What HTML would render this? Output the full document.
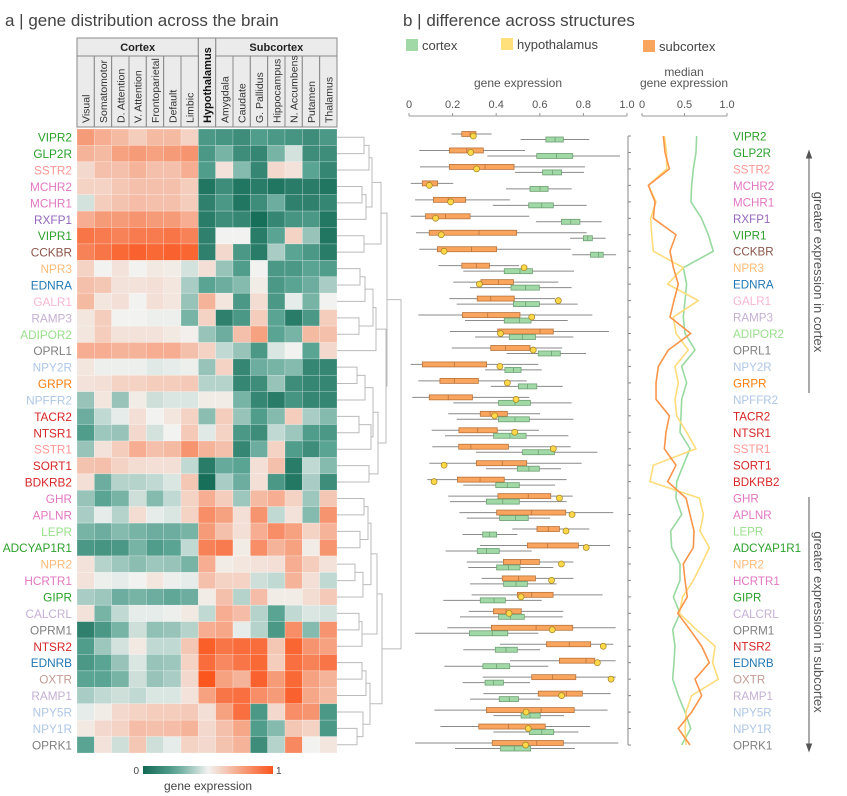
<!DOCTYPE html>
<html><head><meta charset="utf-8">
<style>
html,body{margin:0;padding:0;background:#fff;}
svg{display:block;font-family:"Liberation Sans","DejaVu Sans",sans-serif;}
</style></head>
<body>
<svg id="fig" width="847" height="796" viewBox="0 0 847 796" xmlns="http://www.w3.org/2000/svg">
<text x="5" y="26" font-size="17" fill="#444">a | gene distribution across the brain</text>
<text x="403" y="26" font-size="17" fill="#444">b | difference across structures</text>
<g>
<rect x="406" y="39" width="12" height="12" fill="#a1d9a6"/>
<text x="422" y="50" font-size="13" fill="#444">cortex</text>
<rect x="501" y="38" width="12" height="12" fill="#ffe07a"/>
<text x="517" y="49" font-size="13" fill="#444">hypothalamus</text>
<rect x="643" y="40" width="12" height="12" fill="#f9a55e"/>
<text x="659" y="51" font-size="13" fill="#444">subcortex</text>
</g>
<text x="518" y="87" font-size="12" fill="#555" text-anchor="middle">gene expression</text>
<text x="684" y="76" font-size="12" fill="#555" text-anchor="middle">median</text>
<text x="684" y="87" font-size="12" fill="#555" text-anchor="middle">gene expression</text>
<g id="root"></g>
</svg>
<script>
// ---- DATA ----
const shown=["VIPR2","GLP2R","SSTR2","MCHR2","MCHR1","RXFP1","VIPR1","CCKBR","NPR3","EDNRA","GALR1","RAMP3","ADIPOR2","OPRL1","NPY2R","GRPR","NPFFR2","TACR2","NTSR1","SSTR1","SORT1","BDKRB2","GHR","APLNR","LEPR","ADCYAP1R1","NPR2","HCRTR1","GIPR","CALCRL","OPRM1","NTSR2","EDNRB","OXTR","RAMP1","NPY5R","NPY1R","OPRK1"];
const geneColors={VIPR2:"#2ca02c",GLP2R:"#2ca02c",SSTR2:"#ff9896",MCHR2:"#e377c2",MCHR1:"#e377c2",RXFP1:"#9467bd",VIPR1:"#2ca02c",CCKBR:"#8c564b",NPR3:"#ffbb78",EDNRA:"#1f77b4",GALR1:"#f7b6d2",RAMP3:"#c5b0d5",ADIPOR2:"#98df8a",OPRL1:"#7f7f7f",NPY2R:"#aec7e8",GRPR:"#ff7f0e",NPFFR2:"#aec7e8",TACR2:"#d62728",NTSR1:"#d62728",SSTR1:"#ff9896",SORT1:"#d62728",BDKRB2:"#d62728",GHR:"#e377c2",APLNR:"#e377c2",LEPR:"#98df8a",ADCYAP1R1:"#2ca02c",NPR2:"#ffbb78",HCRTR1:"#e377c2",GIPR:"#2ca02c",CALCRL:"#c5b0d5",OPRM1:"#7f7f7f",NTSR2:"#d62728",EDNRB:"#1f77b4",OXTR:"#c49c94",RAMP1:"#c5b0d5",NPY5R:"#aec7e8",NPY1R:"#aec7e8",OPRK1:"#7f7f7f"};
const cortexCols=["Visual","Somatomotor","D. Attention","V. Attention","Frontoparietal","Default","Limbic"];
const subcortexCols=["Amygdala","Caudate","G. Pallidus","Hippocampus","N. Accumbens","Putamen","Thalamus"];
const heatValues=[
[.78,.72,.68,.62,.68,.68,.6,.2,.18,.15,.22,.2,.18,.15,.2],
[.7,.68,.76,.78,.76,.78,.8,.2,.3,.15,.12,.3,.45,.15,.15],
[.58,.66,.66,.7,.66,.66,.72,.22,.55,.32,.12,.58,.55,.25,.12],
[.6,.6,.64,.66,.66,.66,.62,.05,.15,.05,.08,.05,.08,.08,.05],
[.45,.62,.65,.67,.66,.66,.62,.1,.2,.05,.15,.28,.1,.1,.12],
[.72,.78,.78,.8,.78,.78,.72,.08,.15,.12,.02,.12,.18,.2,.06],
[.9,.88,.86,.88,.88,.9,.86,.1,.5,.5,.08,.25,.6,.35,.05],
[.86,.9,.94,.96,.94,.96,.95,.1,.58,.2,.08,.38,.25,.2,.08],
[.6,.5,.55,.5,.53,.52,.45,.56,.35,.22,.5,.2,.2,.25,.22],
[.66,.64,.55,.55,.56,.54,.38,.25,.28,.32,.52,.2,.25,.28,.38],
[.68,.54,.56,.5,.56,.54,.35,.7,.54,.2,.57,.2,.48,.3,.5],
[.54,.62,.5,.5,.49,.49,.3,.6,.1,.2,.62,.25,.08,.2,.62],
[.54,.62,.55,.55,.55,.53,.51,.35,.28,.66,.76,.25,.3,.68,.66],
[.72,.72,.7,.7,.72,.72,.66,.6,.42,.35,.2,.46,.5,.25,.58],
[.54,.49,.49,.49,.47,.48,.49,.35,.6,.12,.28,.3,.32,.12,.12],
[.55,.56,.6,.6,.62,.62,.63,.4,.4,.12,.15,.35,.15,.12,.12],
[.35,.54,.35,.52,.44,.46,.46,.52,.52,.3,.12,.08,.18,.12,.12],
[.28,.42,.48,.56,.5,.54,.6,.33,.62,.35,.22,.32,.62,.38,.32],
[.22,.36,.35,.58,.45,.5,.63,.47,.6,.2,.15,.42,.36,.22,.2],
[.35,.55,.62,.72,.66,.68,.8,.7,.66,.12,.28,.6,.22,.15,.25],
[.65,.66,.6,.57,.56,.56,.42,.08,.27,.25,.56,.66,.08,.42,.32],
[.56,.28,.4,.4,.42,.46,.64,.02,.38,.28,.56,.2,.06,.38,.15],
[.35,.25,.3,.44,.32,.42,.6,.72,.62,.36,.68,.72,.6,.36,.64],
[.38,.48,.4,.57,.48,.46,.6,.82,.76,.56,.8,.42,.55,.32,.8],
[.3,.28,.32,.3,.28,.28,.3,.78,.66,.56,.72,.82,.76,.6,.7],
[.2,.18,.2,.3,.22,.25,.42,.86,.88,.52,.82,.7,.76,.52,.8],
[.55,.4,.36,.33,.36,.35,.3,.72,.52,.54,.55,.56,.72,.62,.55],
[.55,.49,.48,.5,.54,.49,.48,.66,.6,.6,.44,.42,.7,.56,.42],
[.38,.36,.28,.3,.28,.26,.28,.52,.66,.4,.67,.52,.52,.57,.63],
[.55,.3,.42,.48,.48,.49,.53,.42,.72,.67,.4,.25,.42,.46,.45],
[.1,.2,.3,.44,.34,.35,.4,.72,.74,.48,.4,.2,.82,.32,.8],
[.22,.36,.45,.53,.42,.42,.64,.97,.9,.93,.93,.64,.95,.8,.76],
[.2,.25,.35,.46,.35,.36,.6,.93,.84,.9,.94,.62,.92,.86,.9],
[.25,.25,.3,.44,.35,.38,.58,1.0,.76,.7,.96,.78,.94,.76,.7],
[.38,.42,.44,.42,.46,.46,.55,.76,.9,.92,.82,.78,.96,.74,.68],
[.48,.52,.58,.6,.62,.62,.63,.56,.76,.92,.2,.58,.82,.8,.2],
[.53,.58,.6,.67,.66,.67,.7,.58,.66,.74,.22,.32,.64,.6,.2],
[.25,.55,.44,.64,.44,.48,.6,.58,.65,.7,.15,.4,.84,.5,.54]];
// box stats: [whiskerLow, q1, median, q3, whiskerHigh]
const subcortexBox=[
[.195,.242,.28,.307,.379],[.047,.185,.265,.341,.532],[.05,.185,.349,.482,.807],[.008,.061,.093,.131,.203],
[.028,.112,.18,.26,.463],[.008,.076,.168,.28,.552],[.032,.093,.321,.494,.815],[.047,.13,.287,.402,.742],
[.135,.242,.31,.369,.505],[.203,.33,.41,.479,.685],[.185,.313,.375,.483,.67],[.043,.245,.361,.509,.841],
[.188,.407,.601,.662,.917],[.196,.375,.443,.555,.703],[.008,.061,.208,.356,.593],[.043,.142,.208,.318,.54],
[.015,.093,.18,.291,.552],[.18,.327,.372,.451,.601],[.104,.229,.315,.405,.596],[.107,.228,.284,.456,.742],
[.093,.309,.428,.54,.792],[.084,.222,.326,.437,.723],[.18,.408,.547,.65,.751],[.231,.402,.563,.719,.937],
[.474,.587,.639,.69,.827],[.326,.543,.636,.777,.922],[.265,.433,.512,.598,.754],[.333,.428,.503,.58,.754],
[.287,.497,.563,.661,.888],[.274,.387,.445,.515,.708],[.176,.378,.583,.751,.948],[.417,.631,.735,.833,.937],
[.463,.69,.812,.852,.948],[.338,.563,.659,.765,.948],[.341,.593,.723,.795,.925],[.116,.355,.606,.758,.911],
[.144,.32,.457,.625,.83],[.028,.382,.586,.708,.96]];
const cortexBox=[
[.512,.628,.67,.708,.827],[.359,.586,.677,.751,.968],[.486,.613,.659,.7,.803],[.445,.555,.601,.638,.746],
[.384,.549,.609,.662,.815],[.583,.699,.742,.784,.884],[.739,.8,.82,.841,.902],[.749,.833,.869,.891,.95],
[.249,.437,.509,.566,.757],[.28,.468,.535,.598,.746],[.219,.479,.535,.598,.774],[.257,.437,.506,.56,.728],
[.303,.46,.521,.58,.754],[.448,.593,.654,.694,.812],[.349,.44,.479,.514,.609],[.375,.502,.544,.586,.705],
[.203,.411,.486,.557,.746],[.219,.411,.486,.552,.754],[.165,.388,.463,.537,.731],[.307,.521,.593,.667,.864],
[.353,.497,.55,.598,.697],[.249,.398,.451,.506,.67],[.188,.355,.43,.506,.723],[.265,.416,.489,.547,.647],
[.246,.338,.37,.402,.497],[.168,.313,.356,.414,.563],[.272,.402,.456,.509,.662],[.28,.434,.491,.543,.677],
[.157,.327,.39,.442,.609],[.234,.411,.465,.529,.705],[.028,.277,.382,.453,.593],[.249,.396,.445,.497,.601],
[.162,.339,.402,.462,.639],[.246,.349,.387,.433,.555],[.28,.414,.46,.502,.601],[.387,.514,.555,.602,.711],
[.387,.552,.609,.664,.777],[.211,.42,.483,.558,.761]];
const hypothalamusValue=[.295,.283,.31,.093,.191,.122,.148,.161,.528,.323,.685,.563,.42,.57,.417,.451,.491,.393,.485,.662,.161,.115,.69,.748,.72,.813,.699,.654,.514,.459,.657,.891,.864,.927,.7,.537,.547,.535];
const medianCortex=[.643,.635,.604,.584,.576,.70,.78,.839,.486,.525,.506,.486,.506,.624,.467,.525,.467,.459,.447,.565,.486,.408,.40,.467,.337,.349,.447,.447,.369,.447,.361,.388,.376,.361,.427,.506,.573,.467];
const medianSubcortex=[.251,.271,.322,.075,.153,.133,.40,.329,.369,.427,.376,.329,.573,.31,.192,.165,.165,.322,.282,.263,.40,.302,.518,.565,.612,.604,.486,.506,.533,.42,.565,.702,.792,.624,.702,.584,.427,.565];
const medianHypothalamus=[.263,.29,.29,.075,.165,.102,.114,.133,.486,.302,.663,.369,.40,.545,.388,.427,.388,.408,.525,.635,.133,.094,.675,.722,.682,.792,.702,.604,.478,.439,.643,.859,.831,.898,.584,.518,.506,.518];
const boxTicks=[0,0.2,0.4,0.6,0.8,1.0];
const boxTickLabels=["0","0.2","0.4","0.6","0.8","1.0"];
const medTicks=[0,0.5,1.0];
const medTickLabels=["0","0.5","1.0"];
</script>
<script>
const NS="http://www.w3.org/2000/svg";
const root=document.getElementById('root');
function el(tag,attrs,parent,txt){const e=document.createElementNS(NS,tag);for(const k in attrs)e.setAttribute(k,attrs[k]);if(txt!==undefined)e.textContent=txt;(parent||root).appendChild(e);return e;}
const N=shown.length;
const hx0=77,hx1=337,hy0=129,hy1=753;
const cw=(hx1-hx0)/15, rh=(hy1-hy0)/N;
const stops=[[0,[18,106,84]],[0.25,[90,164,148]],[0.5,[242,242,240]],[0.75,[246,164,132]],[1,[250,86,30]]];
function cmap(v){v=Math.max(0,Math.min(1,v));for(let i=1;i<stops.length;i++){if(v<=stops[i][0]){const a=stops[i-1],b=stops[i];const t=(v-a[0])/(b[0]-a[0]);return 'rgb('+a[1].map((c,j)=>Math.round(c+(b[1][j]-c)*t)).join(',')+')';}}return 'rgb(250,86,30)';}
const gHeat=el('g',{});


for(let r=0;r<N;r++){for(let c=0;c<15;c++){
 const cell=el('rect',{x:hx0+c*cw,y:hy0+r*rh,width:cw,height:rh,fill:cmap(heatValues[r][c]),stroke:'#fff','stroke-opacity':0.35,'stroke-width':0.6},gHeat);
 
 
}
 const lab=el('text',{x:72,y:hy0+(r+0.5)*rh+4.5,'font-size':11.8,'text-anchor':'end',fill:geneColors[shown[r]]},root,shown[r]);
 
 
}
const gHead=el('g',{});


const cortexHeader=el('rect',{x:hx0,y:38,width:7*cw,height:18,fill:'#ebebeb',stroke:'#888','stroke-width':1},gHead);


const t1=el('text',{x:hx0+3.5*cw,y:51,'font-size':11,'font-weight':'bold','text-anchor':'middle',fill:'#222'},gHead,'Cortex');


const subHeader=el('rect',{x:hx0+8*cw,y:38,width:7*cw,height:18,fill:'#ebebeb',stroke:'#888','stroke-width':1},gHead);


const t2=el('text',{x:hx0+11.5*cw,y:51,'font-size':11,'font-weight':'bold','text-anchor':'middle',fill:'#222'},gHead,'Subcortex');


const hypHeader=el('rect',{x:hx0+7*cw,y:38,width:cw,height:89,fill:'#ebebeb',stroke:'#888','stroke-width':1},gHead);


const t3=el('text',{x:0,y:0,'font-size':11,'font-weight':'bold',fill:'#111',transform:'translate('+(hx0+7.5*cw+4)+',123) rotate(-90)'},gHead,'Hypothalamus');


const colNames=cortexCols.concat([null]).concat(subcortexCols);
colNames.forEach((n,c)=>{if(!n)return;
 const rc=el('rect',{x:hx0+c*cw,y:56,width:cw,height:71,fill:'#ebebeb',stroke:'#888','stroke-width':1},gHead);
 
 
 const tx=el('text',{x:0,y:0,'font-size':10.5,fill:'#333',transform:'translate('+(hx0+(c+0.5)*cw+4)+',123) rotate(-90)'},gHead,n);
 
 
});
const A1=[[[[0,1,27],2,32],[[3,4,25],5,29],35],[6,7,27],44];
const A2=[[[[[8,9,23],10,28],[11,12,22],36],13,39],[[[[14,15,20],16,28],[[17,18,22],19,34],36],[20,21,32],41],49];
const B1=[[[22,23,27],[24,25,23],31],[[26,27,18],28,26],34];
const B2=[[29,30,22],31,25];
const B3=[[[32,33,25],34,29],[35,[36,37,20],26],33];
const tree=[[A1,A2,50],[[B1,B2,40],B3,45],64];
const gD=el('g',{fill:'none',stroke:'#bbb','stroke-width':1});


function dend(n){if(typeof n==='number')return{y:hy0+(n+0.5)*rh,x:hx1};
 const a=dend(n[0]),b=dend(n[1]);const X=hx1+n[2];
 el('path',{d:`M${a.x},${a.y}H${X}V${b.y}H${b.x}`},gD);
 return{y:(a.y+b.y)/2,x:X};}
dend(tree);
const defs=el('defs',{});
const lg=el('linearGradient',{id:'cb',x1:0,x2:1,y1:0,y2:0},defs);
for(let i=0;i<=10;i++)el('stop',{offset:(i/10),'stop-color':cmap(i/10)},lg);
const cb=el('rect',{x:143,y:766,width:130,height:8,fill:'url(#cb)'});


const c0=el('text',{x:139,y:774,'font-size':10,'text-anchor':'end',fill:'#444'},root,'0');


const c1=el('text',{x:276,y:774,'font-size':10,fill:'#444'},root,'1');


const ct=el('text',{x:208,y:790,'font-size':12,'text-anchor':'middle',fill:'#444'},root,'gene expression');



const bx=v=>409+v*218;
const mx=v=>642+v*85;
const rowY=i=>136+i*(745-136)/(N-1);
const gAx=el('g',{stroke:'#999','stroke-width':1});


el('line',{x1:bx(0),x2:bx(1),y1:116,y2:116},gAx);
boxTicks.forEach((t,i)=>{el('line',{x1:bx(t),x2:bx(t),y1:113,y2:116},gAx);
 const tl=el('text',{x:bx(t),y:108,'font-size':11,'text-anchor':'middle',fill:'#555',stroke:'none'},root,boxTickLabels[i]);
 
 });
const gMx=el('g',{stroke:'#999','stroke-width':1});


el('line',{x1:mx(0),x2:mx(1),y1:116,y2:116},gMx);
medTicks.forEach((t,i)=>{el('line',{x1:mx(t),x2:mx(t),y1:113,y2:116},gMx);
 const tl=el('text',{x:mx(t),y:108,'font-size':11,'text-anchor':'middle',fill:'#555',stroke:'none'},root,medTickLabels[i]);
 
 });
const gR=el('g',{stroke:'#888','stroke-width':1});


el('line',{x1:628,x2:628,y1:rowY(0),y2:rowY(N-1)},gR);
for(let i=0;i<N;i++)el('line',{x1:628,x2:631,y1:rowY(i),y2:rowY(i)},gR);
function drawBox(s,y,fill,stroke,name){
 const g=el('g',{});
 
 
 el('line',{x1:bx(s[0]),x2:bx(s[4]),y1:y,y2:y,stroke:'#8a8a8a','stroke-width':1},g);
 el('rect',{x:bx(s[1]),y:y-2.5,width:bx(s[3])-bx(s[1]),height:5,fill:fill,stroke:stroke,'stroke-width':0.8},g);
 el('line',{x1:bx(s[2]),x2:bx(s[2]),y1:y-2.5,y2:y+2.5,stroke:stroke,'stroke-width':0.8},g);
}
for(let i=0;i<N;i++){
 const c=rowY(i);
 drawBox(subcortexBox[i],c-2,'#f9a55e','#b8743d','subcortex-box');
 drawBox(cortexBox[i],c+3.5,'#a1d9a6','#6f9f74','cortex-box');
 const d=el('circle',{cx:bx(hypothalamusValue[i]),cy:c,r:3,fill:'#ffd84a',stroke:'#a08020','stroke-width':0.7});
 
 
 const lab=el('text',{x:733,y:c+4.5,'font-size':11.6,fill:geneColors[shown[i]]},root,shown[i]);
 
 
}
function line(arr,color,name){
 const p=el('polyline',{points:arr.map((v,i)=>mx(v)+','+rowY(i)).join(' '),fill:'none',stroke:color,'stroke-width':1.6,'stroke-linejoin':'round'});
 
 
}
line(medianCortex,'#98d9a0','median-line-cortex');
line(medianHypothalamus,'#ffdc7a','median-line-hypothalamus');
line(medianSubcortex,'#f9954a','median-line-subcortex');
const gA=el('g',{stroke:'#555','stroke-width':1,fill:'#555'});


el('line',{x1:809,x2:809,y1:154,y2:393},gA);
el('path',{d:'M806.5,158L809,151L811.5,158Z'},gA);
el('line',{x1:809,x2:809,y1:497,y2:748},gA);
el('path',{d:'M806.5,744L809,751L811.5,744Z'},gA);
const a1=el('text',{x:0,y:0,'font-size':13,'text-anchor':'middle',fill:'#555',transform:'translate(814,272) rotate(90)'},root,'greater expression in cortex');


const a2=el('text',{x:0,y:0,'font-size':13,'text-anchor':'middle',fill:'#555',transform:'translate(814,622) rotate(90)'},root,'greater expression in subcortex');


</script>
</body></html>
